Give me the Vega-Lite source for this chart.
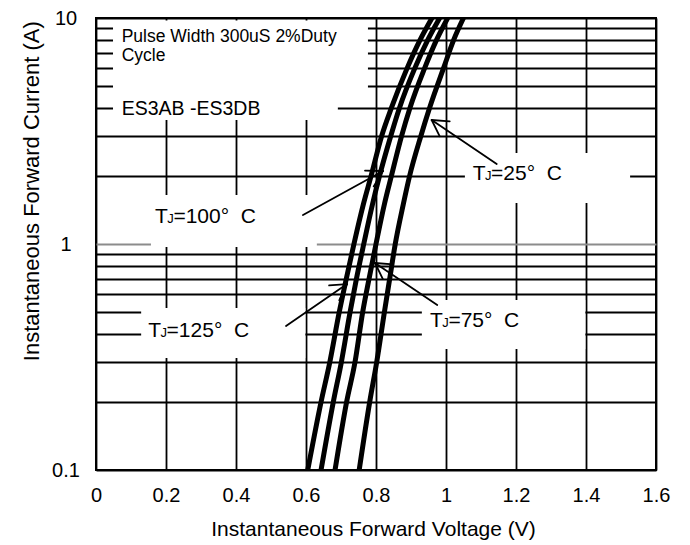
{
  "$schema": "https://vega.github.io/schema/vega-lite/v6.json",
  "width": 560,
  "height": 452,
  "autosize": "none",
  "padding": {"left": 96, "top": 18, "right": 34, "bottom": 75},
  "background": "white",
  "config": {
    "font": "Liberation Sans",
    "view": {"stroke": "black", "strokeWidth": 2}
  },
  "encoding": {
    "x": {
      "field": "v", "type": "quantitative",
      "scale": {"domain": [0, 1.6], "nice": false, "zero": false},
      "axis": {
        "title": "Instantaneous Forward Voltage (V)",
        "values": [0, 0.2, 0.4, 0.6, 0.8, 1, 1.2, 1.4, 1.6],
        "format": "~g",
        "grid": true, "gridColor": "black", "gridWidth": 1.8,
        "domain": false, "ticks": false, "tickSize": 0,
        "labelFont": "Liberation Sans", "labelFontSize": 20, "labelColor": "black",
        "labelBaseline": "alphabetic", "labelPadding": 31.7,
        "labelFlush": false, "labelOverlap": false,
        "titleFont": "Liberation Sans", "titleFontSize": 21, "titleFontWeight": "normal",
        "titleColor": "black", "titleBaseline": "alphabetic", "titleY": 65, "titleX": 277
      }
    },
    "y": {
      "field": "i", "type": "quantitative",
      "scale": {"type": "log", "domain": [0.1, 10], "nice": false},
      "axis": {
        "title": "Instantaneous Forward Current (A)",
        "values": [0.1, 0.2, 0.3, 0.4, 0.5, 0.6, 0.7, 0.8, 0.9, 1, 2, 3, 4, 5, 6, 7, 8, 9, 10],
        "format": "~g",
        "labelExpr": "datum.value === 0.1 || datum.value === 1 || datum.value === 10 ? datum.label : ''",
        "grid": true,
        "gridColor": {"condition": {"test": "datum.value === 1", "value": "#8c8c8c"}, "value": "black"},
        "gridWidth": 1.8,
        "domain": false, "ticks": false, "tickSize": 0,
        "labelFont": "Liberation Sans", "labelFontSize": 20, "labelColor": "black",
        "labelAlign": "center", "labelBaseline": "middle", "labelPadding": 30.5,
        "labelOverlap": false, "labelFlush": false,
        "titleFont": "Liberation Sans", "titleFontSize": 22, "titleFontWeight": "normal",
        "titleColor": "black", "titleAngle": 270, "titleAlign": "center",
        "titleBaseline": "alphabetic", "titleX": -57.5, "titleY": 172.7
      }
    }
  },
  "layer": [
    {
      "data": {"values": [
        {"box": "note", "v": 0.0486, "v2": 0.777, "i": 9.75, "i2": 4.47},
        {"box": "part", "v": 0.0486, "v2": 0.691, "i": 4.47, "i2": 3.54},
        {"box": "TJ100", "v": 0.157, "v2": 0.631, "i": 1.648, "i2": 0.97},
        {"box": "TJ25", "v": 1.054, "v2": 1.526, "i": 2.53, "i2": 1.518},
        {"box": "TJ125", "v": 0.129, "v2": 0.598, "i": 0.521, "i2": 0.313},
        {"box": "TJ75", "v": 0.931, "v2": 1.398, "i": 0.565, "i2": 0.343}
      ]},
      "mark": {"type": "rect", "fill": "white", "strokeWidth": 0},
      "encoding": {"x2": {"field": "v2"}, "y2": {"field": "i2"}}
    },
    {
      "data": {"values": [
        {"t": "125", "v": 0.605, "i": 0.1}, {"t": "125", "v": 0.643, "i": 0.2}, {"t": "125", "v": 0.668, "i": 0.3},
        {"t": "125", "v": 0.695, "i": 0.5}, {"t": "125", "v": 0.715, "i": 0.7}, {"t": "125", "v": 0.737, "i": 1},
        {"t": "125", "v": 0.764, "i": 1.5}, {"t": "125", "v": 0.786, "i": 2}, {"t": "125", "v": 0.816, "i": 3},
        {"t": "125", "v": 0.844, "i": 4}, {"t": "125", "v": 0.889, "i": 6}, {"t": "125", "v": 0.926, "i": 8},
        {"t": "125", "v": 0.96, "i": 10},
        {"t": "100", "v": 0.643, "i": 0.1}, {"t": "100", "v": 0.678, "i": 0.2}, {"t": "100", "v": 0.701, "i": 0.3},
        {"t": "100", "v": 0.726, "i": 0.5}, {"t": "100", "v": 0.744, "i": 0.7}, {"t": "100", "v": 0.765, "i": 1},
        {"t": "100", "v": 0.79, "i": 1.5}, {"t": "100", "v": 0.81, "i": 2}, {"t": "100", "v": 0.842, "i": 3},
        {"t": "100", "v": 0.867, "i": 4}, {"t": "100", "v": 0.911, "i": 6}, {"t": "100", "v": 0.948, "i": 8},
        {"t": "100", "v": 0.982, "i": 10},
        {"t": "75", "v": 0.683, "i": 0.1}, {"t": "75", "v": 0.716, "i": 0.2}, {"t": "75", "v": 0.74, "i": 0.3},
        {"t": "75", "v": 0.762, "i": 0.5}, {"t": "75", "v": 0.78, "i": 0.7}, {"t": "75", "v": 0.8, "i": 1},
        {"t": "75", "v": 0.824, "i": 1.5}, {"t": "75", "v": 0.844, "i": 2}, {"t": "75", "v": 0.873, "i": 3},
        {"t": "75", "v": 0.897, "i": 4}, {"t": "75", "v": 0.939, "i": 6}, {"t": "75", "v": 0.973, "i": 8},
        {"t": "75", "v": 1.005, "i": 10},
        {"t": "25", "v": 0.752, "i": 0.1}, {"t": "25", "v": 0.782, "i": 0.2}, {"t": "25", "v": 0.802, "i": 0.3},
        {"t": "25", "v": 0.824, "i": 0.5}, {"t": "25", "v": 0.839, "i": 0.7}, {"t": "25", "v": 0.855, "i": 1},
        {"t": "25", "v": 0.878, "i": 1.5}, {"t": "25", "v": 0.896, "i": 2}, {"t": "25", "v": 0.928, "i": 3},
        {"t": "25", "v": 0.953, "i": 4}, {"t": "25", "v": 0.993, "i": 6}, {"t": "25", "v": 1.022, "i": 8},
        {"t": "25", "v": 1.05, "i": 10}
      ]},
      "mark": {"type": "line", "color": "black", "strokeWidth": 5, "interpolate": "monotone", "clip": true},
      "encoding": {"detail": {"field": "t"}}
    },
    {
      "data": {"values": [
        {"v": 1.1449, "i": 2.259, "v2": 0.9591, "i2": 3.537},
        {"v": 0.9591, "i": 3.537, "v2": 1.0106, "i2": 3.491},
        {"v": 0.9591, "i": 3.537, "v2": 0.9817, "i2": 2.999},
        {"v": 0.975, "i": 0.537, "v2": 0.7971, "i2": 0.824},
        {"v": 0.7971, "i": 0.824, "v2": 0.8486, "i2": 0.813},
        {"v": 0.7971, "i": 0.824, "v2": 0.8197, "i2": 0.699},
        {"v": 0.5914, "i": 1.344, "v2": 0.82, "i2": 2.104},
        {"v": 0.82, "i": 2.104, "v2": 0.7686, "i2": 2.113},
        {"v": 0.82, "i": 2.104, "v2": 0.7934, "i2": 1.798},
        {"v": 0.5429, "i": 0.4337, "v2": 0.7171, "i2": 0.665},
        {"v": 0.7171, "i": 0.665, "v2": 0.666, "i2": 0.656},
        {"v": 0.7171, "i": 0.665, "v2": 0.695, "i2": 0.5635}
      ]},
      "mark": {"type": "rule", "color": "black", "strokeWidth": 1.8, "strokeCap": "round"},
      "encoding": {"x2": {"field": "v2"}, "y2": {"field": "i2"}}
    },
    {
      "data": {"values": [
        {"v": 0.0734, "i": 7.83, "txt": "Pulse Width 300uS 2%Duty"},
        {"v": 0.0734, "i": 6.42, "txt": "Cycle"}
      ]},
      "mark": {"type": "text", "align": "left", "baseline": "alphabetic", "fontSize": 17.5, "color": "black"},
      "encoding": {"text": {"field": "txt"}}
    },
    {
      "data": {"values": [
        {"v": 0.0734, "i": 3.722, "txt": "ES3AB -ES3DB"}
      ]},
      "mark": {"type": "text", "align": "left", "baseline": "alphabetic", "fontSize": 19.5, "color": "black"},
      "encoding": {"text": {"field": "txt"}}
    },
    {
      "data": {"name": "tj", "values": [
        {"v": 0.1686, "i": 1.235, "rest": "=100° \u00a0C"},
        {"v": 1.0763, "i": 1.919, "rest": "=25° \u00a0C"},
        {"v": 0.1491, "i": 0.3866, "rest": "=125° \u00a0C"},
        {"v": 0.9543, "i": 0.428, "rest": "=75° \u00a0C"}
      ]},
      "layer": [
        {
          "mark": {"type": "text", "align": "left", "baseline": "alphabetic", "fontSize": 21, "color": "black"},
          "encoding": {"text": {"value": "T"}}
        },
        {
          "mark": {"type": "text", "align": "left", "baseline": "alphabetic", "fontSize": 13, "dx": 12.3, "color": "black"},
          "encoding": {"text": {"value": "J"}}
        },
        {
          "mark": {"type": "text", "align": "left", "baseline": "alphabetic", "fontSize": 21, "dx": 18.4, "color": "black"},
          "encoding": {"text": {"field": "rest"}}
        }
      ]
    }
  ]
}
